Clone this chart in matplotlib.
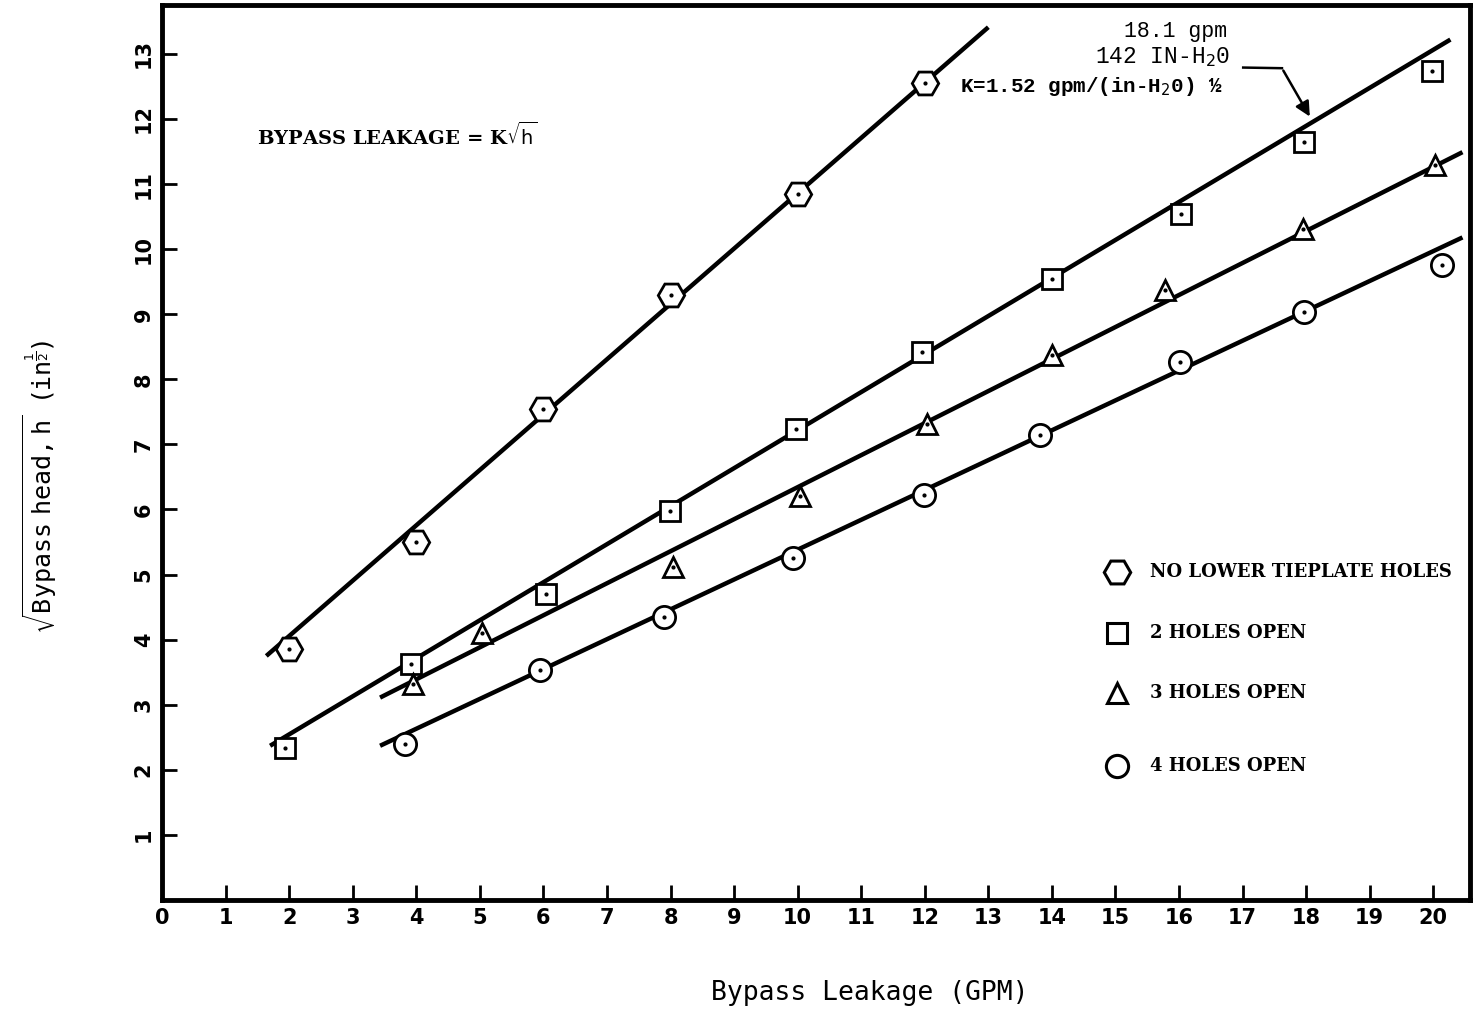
import numpy as np
import matplotlib.pyplot as plt

# readings taken off the chart
x_none = [2, 4, 6, 8, 10, 12]
y_none = [3.85, 5.50, 7.55, 9.30, 10.85, 12.55]

x_two = [1.94, 3.92, 6.04, 7.99, 9.98, 11.96, 14.0, 16.03, 17.97, 19.98]
y_two = [2.34, 3.63, 4.70, 5.97, 7.23, 8.42, 9.54, 10.54, 11.65, 12.73]

x_three = [3.95, 5.04, 8.04, 10.04, 12.04, 14.0, 15.78, 17.95, 20.03]
y_three = [3.32, 4.10, 5.11, 6.20, 7.32, 8.38, 9.37, 10.31, 11.30]

x_four = [3.82, 5.95, 7.90, 9.93, 11.99, 13.82, 16.02, 17.97, 20.14]
y_four = [2.40, 3.54, 4.35, 5.25, 6.22, 7.15, 8.27, 9.04, 9.75]

# fitted lines, end points as drawn
fit_none = ([1.64, 13.0], [3.75, 13.41])
fit_two = ([1.70, 20.27], [2.37, 13.22])
fit_three = ([3.43, 20.46], [3.11, 11.49])
fit_four = ([3.43, 20.46], [2.37, 10.18])

labels = ["NO LOWER TIEPLATE HOLES", "2 HOLES OPEN", "3 HOLES OPEN", "4 HOLES OPEN"]
markers = ["H", "s", "^", "o"]
msizes = [19, 15, 15, 16]

fig = plt.figure(figsize=(14.76, 10.14), dpi=100)
ax = fig.add_axes([0.1098, 0.1124, 0.8862, 0.8826])

series = [(x_none, y_none, fit_none), (x_two, y_two, fit_two),
          (x_three, y_three, fit_three), (x_four, y_four, fit_four)]
for (xs, ys, fit), m, s in zip(series, markers, msizes):
    ax.plot(fit[0], fit[1], color="black", lw=3.2, solid_capstyle="butt", zorder=2)
    ax.plot(xs, ys, linestyle="none", marker=m, ms=s, mfc="white", mec="black", mew=2, zorder=3)
    ax.plot(xs, ys, linestyle="none", marker=".", ms=4, color="black", zorder=4)

ax.set_xlim(0, 20.58)
ax.set_ylim(0, 13.75)
ax.set_xticks(range(0, 21))
ax.set_yticks(range(1, 14))
ax.tick_params(direction="in", length=11, width=2)
ax.tick_params(axis="x", pad=6)
ax.tick_params(axis="y", pad=6)
for lab in ax.get_xticklabels():
    lab.set_fontsize(15)
    lab.set_fontweight("bold")
for lab in ax.get_yticklabels():
    lab.set_fontsize(15)
    lab.set_fontweight("bold")
    lab.set_rotation(90)
    lab.set_va("center")
for sp in ax.spines.values():
    sp.set_linewidth(3.5)

# custom legend
leg_y = [0.366, 0.298, 0.231, 0.150]
for m, s, lab, yy in zip(markers, msizes, labels, leg_y):
    ax.plot([0.730], [yy], transform=ax.transAxes, marker=m, ms=s, mfc="white",
            mec="black", mew=2.2, linestyle="none", clip_on=False)
    ax.text(0.755, yy, lab, transform=ax.transAxes, va="center", ha="left",
            fontsize=13, fontweight="bold", family="DejaVu Serif")

ax.text(1.5, 11.75, r"BYPASS LEAKAGE = K$\sqrt{\mathrm{h}}$", fontsize=14, fontweight="bold",
        family="DejaVu Serif", va="center", ha="left")

# callout for the 2-holes line
ax.text(15.95, 13.35, "18.1 gpm", fontsize=15.5, family="Liberation Mono", ha="center", va="center")
ax.text(15.75, 12.95, r"142 IN-H$_2$0", fontsize=16.5, family="Liberation Mono", ha="center", va="center")
ax.text(12.56, 12.5, r"K=1.52 gpm/(in-H$_2$0) ½", fontsize=15, family="Liberation Mono",
        fontweight="bold", ha="left", va="center")
ax.plot([17.01, 17.62], [12.79, 12.78], color="black", lw=1.8)
ax.annotate("", xy=(18.08, 12.0), xytext=(17.62, 12.78),
            arrowprops=dict(arrowstyle="-|>", color="black", lw=1.8, mutation_scale=22))

fig.text(0.589, 0.021, "Bypass Leakage (GPM)", fontsize=19, family="DejaVu Sans Mono",
         ha="center", va="center")
fig.text(0.027, 0.52, r"$\sqrt{\mathtt{Bypass\ head,h}}$  $(\mathtt{in}^{\frac{1}{2}})$",
         fontsize=18, rotation=90, ha="center", va="center")

fig.savefig("out.png", dpi=100, facecolor="white")
